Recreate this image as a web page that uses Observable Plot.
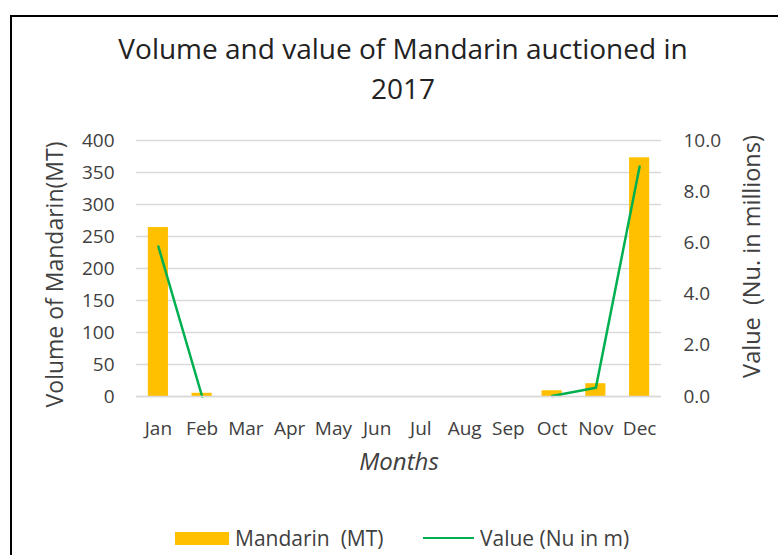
<!DOCTYPE html>
<html>
<head>
<meta charset="utf-8">
<script src="https://cdn.jsdelivr.net/npm/d3@7"></script>
<script src="https://cdn.jsdelivr.net/npm/@observablehq/plot@0.6"></script>
<style>
  html, body { margin: 0; padding: 0; background: #fff; }
  body { width: 778px; height: 555px; position: relative; overflow: hidden; font-family: "Open Sans", "Noto Sans", sans-serif; color: #404040; }
  #frame { position: absolute; left: 10px; top: 15px; width: 800px; height: 600px; border: 2px solid #000; box-sizing: border-box; }
  #title { position: absolute; left: 0; width: 806px; top: 28px; text-align: center; font-size: 28px; line-height: 40px; color: #222; }
  #chart { position: absolute; left: 0; top: 110px; }
  #legend { position: absolute; top: 527px; left: 0; width: 778px; font-size: 21px; color: #404040; }
  .sw { position: absolute; }
  .lt { position: absolute; top: 0; line-height: 22px; }
</style>
</head>
<body>
<div id="frame"></div>
<div id="title">Volume and value of Mandarin auctioned in<br>2017</div>
<div id="chart"></div>
<div id="legend">
  <div class="sw" style="left:175px;top:5px;width:54px;height:13px;background:#FFC000"></div>
  <div class="lt" style="left:235px">Mandarin&nbsp; (MT)</div>
  <div class="sw" style="left:423px;top:10px;width:51px;height:2px;background:#00B050"></div>
  <div class="lt" style="left:480px">Value (Nu in m)</div>
</div>
<script>
const months = ["Jan","Feb","Mar","Apr","May","Jun","Jul","Aug","Sep","Oct","Nov","Dec"];
const volumeMT = [264, 5, null, null, null, null, null, null, null, 9, 20, 373];
const valueNuM = [5.86, 0.0, null, null, null, null, null, null, null, 0.02, 0.34, 8.98];
const leftTicks = [0, 50, 100, 150, 200, 250, 300, 350, 400];
const rightTicks = [0, 2, 4, 6, 8, 10];
const ratio = 40; // 10.0 on right axis aligns with 400 on left axis

const bars = months.map((m, i) => ({month: m, v: volumeMT[i]})).filter(d => d.v != null);
const line = months.map((m, i) => ({month: m, val: valueNuM[i] == null ? NaN : valueNuM[i] * ratio}));

const font = '"Open Sans", "Noto Sans", sans-serif';
const chart = Plot.plot({
  width: 778,
  height: 366,
  marginTop: 30,
  marginBottom: 80,
  marginLeft: 136,
  marginRight: 117,
  style: {fontFamily: font, fontSize: "19px", color: "#404040", background: "transparent", overflow: "visible"},
  x: {domain: months, paddingInner: 0.54, paddingOuter: 0.27, round: false},
  y: {domain: [0, 400]},
  marks: [
    Plot.gridY(leftTicks, {stroke: "#d9d9d9", strokeOpacity: 1, strokeWidth: 1.5}),
    Plot.barY(bars, {x: "month", y: "v", fill: "#FFC000"}),
    Plot.line(line, {x: "month", y: "val", stroke: "#00B050", strokeWidth: 2.5}),
    Plot.ruleY([0], {stroke: "#d9d9d9", strokeWidth: 1.5}),
    Plot.axisY(leftTicks, {anchor: "left", tickSize: 0, tickPadding: 22, label: null, fontSize: 19}),
    Plot.axisY(rightTicks.map(d => d * ratio), {anchor: "right", tickSize: 0, tickPadding: 22, label: null, textAnchor: "start", tickFormat: d => (d / ratio).toFixed(1), fontSize: 19}),
    Plot.axisX({anchor: "bottom", tickSize: 0, tickPadding: 25, label: null, fontSize: 19}),
    Plot.text([0], {frameAnchor: "left", textAnchor: "middle", dx: -81, dy: 6, rotate: -90, text: () => "Volume of Mandarin(MT)", fontSize: 23, fill: "#404040"}),
    Plot.text([0], {frameAnchor: "right", textAnchor: "middle", dx: 91, dy: -12, rotate: -90, text: () => "Value  (Nu. in millions)", fontSize: 23.5, fill: "#404040"}),
    Plot.text([0], {frameAnchor: "bottom", dy: 73, text: () => "Months", fontSize: 24, fontStyle: "italic", fill: "#404040"})
  ]
});
document.getElementById("chart").appendChild(chart);
</script>
</body>
</html>
